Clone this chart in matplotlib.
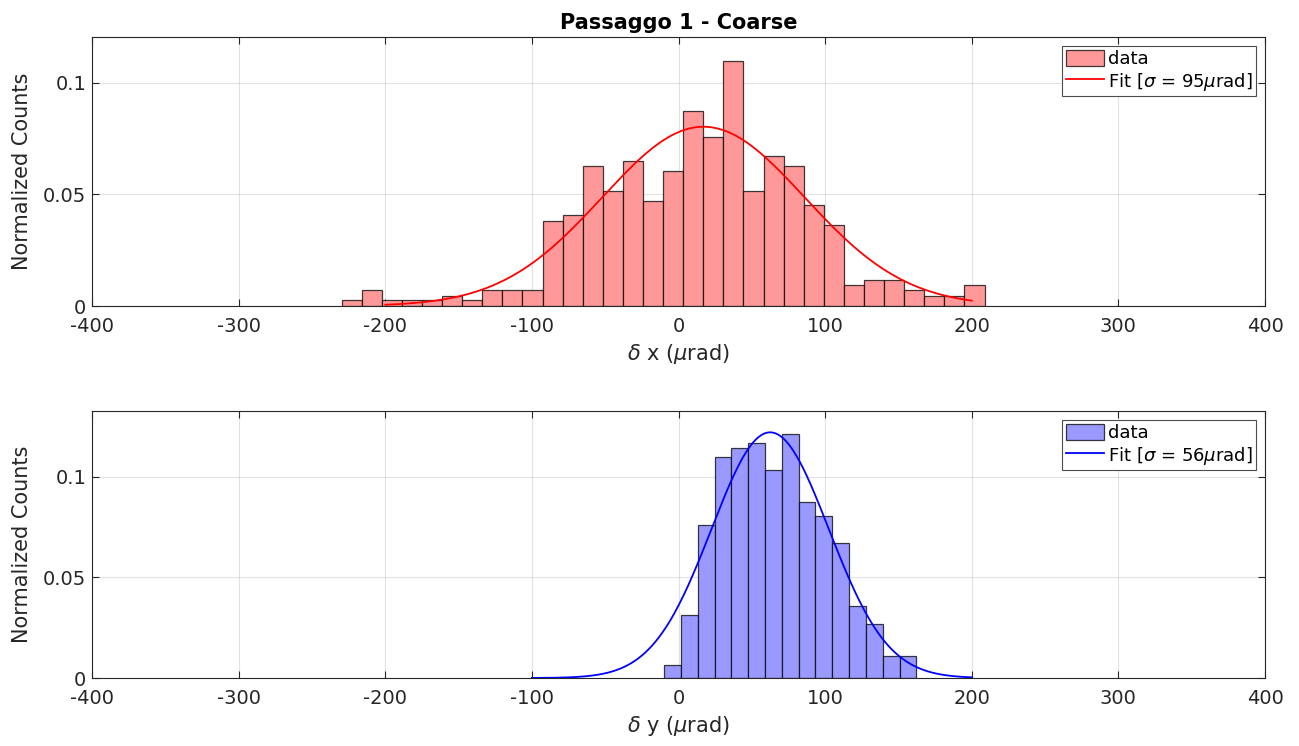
import numpy as np
import matplotlib
matplotlib.use("Agg")
import matplotlib.pyplot as plt

# ---------- data ----------
x_left_edge = -229.7
x_bin_width = 13.7
x_heights = [0.0025, 0.0070, 0.0025, 0.0025, 0.0025, 0.0047, 0.0025, 0.0070,
             0.0070, 0.0070, 0.0382, 0.0406, 0.0628, 0.0515, 0.0651, 0.0470,
             0.0606, 0.0875, 0.0758, 0.1099, 0.0515, 0.0672, 0.0628, 0.0451,
             0.0361, 0.0093, 0.0116, 0.0116, 0.0070, 0.0047, 0.0047, 0.0093]
x_fit_amp, x_fit_mu, x_fit_sd = 0.0803, 17.0, 69.0
x_fit_range = (-200, 200)
x_sigma_label = 95

y_left_edge = -9.8
y_bin_width = 11.47
y_heights = [0.0066, 0.0315, 0.0762, 0.1099, 0.1144, 0.1169, 0.1035, 0.1214,
             0.0876, 0.0806, 0.0672, 0.0359, 0.0270, 0.0111, 0.0111]
y_fit_amp, y_fit_mu, y_fit_sd = 0.1222, 62.5, 40.0
y_fit_range = (-100, 200)
y_sigma_label = 56

xticks = [-400, -300, -200, -100, 0, 100, 200, 300, 400]
yticks = [0, 0.05, 0.1]
ytick_labels = ["0", "0.05", "0.1"]

plt.rcParams['font.family'] = ['DejaVu Sans']
plt.rcParams['mathtext.fontset'] = 'dejavusans'
plt.rcParams['axes.unicode_minus'] = False

W, H = 1299, 746
fig = plt.figure(figsize=(W / 100, H / 100), dpi=100)

def ax_rect(l, t, r, b):
    return [l / W, 1 - b / H, (r - l) / W, (b - t) / H]

ax1 = fig.add_axes(ax_rect(92, 37, 1265, 306))
ax2 = fig.add_axes(ax_rect(92, 411, 1265, 678))

edge_col = (0.15, 0.15, 0.15)

def draw(ax, left, width, heights, face, line_col, amp, mu, sd, frange, sig, ylim, xlabel):
    n = len(heights)
    lefts = left + width * np.arange(n)
    bars = ax.bar(lefts, heights, width=width, align='edge', color=face,
                  edgecolor=(0, 0, 0, 0.75), linewidth=0.9, label='data', zorder=2)
    xs = np.linspace(frange[0], frange[1], 400)
    line, = ax.plot(xs, amp * np.exp(-(xs - mu) ** 2 / (2 * sd ** 2)), color=line_col,
                    linewidth=1.3, zorder=3)
    ax.set_xlim(-400, 400)
    ax.set_ylim(0, ylim)
    ax.set_xticks(xticks)
    ax.set_yticks(yticks)
    ax.set_yticklabels(ytick_labels)
    ax.tick_params(direction='in', top=True, right=True, labelsize=14,
                   length=5, width=0.8, pad=4, color=edge_col, labelcolor=edge_col)
    ax.tick_params(axis='x', pad=8)
    ax.grid(True, color='#262626', alpha=0.13, linewidth=0.8)
    ax.set_axisbelow(True)
    for s in ax.spines.values():
        s.set_color(edge_col)
        s.set_linewidth(0.8)
    ax.set_ylabel('Normalized Counts', fontsize=15, color=edge_col, labelpad=8)
    ax.set_xlabel(xlabel, fontsize=15, color=edge_col, labelpad=4)
    leg = ax.legend([bars, line], ['data', r'Fit [$\sigma$ = %d$\mu$rad]' % sig],
                    loc='upper right', fontsize=13, fancybox=False, framealpha=1,
                    edgecolor=(0.3, 0.3, 0.3), borderpad=0.2, handlelength=2.1,
                    handleheight=1.0, handletextpad=0.2, labelspacing=0.15,
                    borderaxespad=0.5)
    leg.get_frame().set_linewidth(0.8)

draw(ax1, x_left_edge, x_bin_width, x_heights, (1, 0.6, 0.6), (1, 0, 0),
     x_fit_amp, x_fit_mu, x_fit_sd, x_fit_range, x_sigma_label, 0.1205,
     r'$\delta$ x ($\mu$rad)')
draw(ax2, y_left_edge, y_bin_width, y_heights, (0.6, 0.6, 1), (0, 0, 1),
     y_fit_amp, y_fit_mu, y_fit_sd, y_fit_range, y_sigma_label, 0.1328,
     r'$\delta$ y ($\mu$rad)')

ax1.set_title('Passaggo 1 - Coarse', fontsize=15, fontweight='bold', pad=6)

fig.savefig('out.png', dpi=100)
